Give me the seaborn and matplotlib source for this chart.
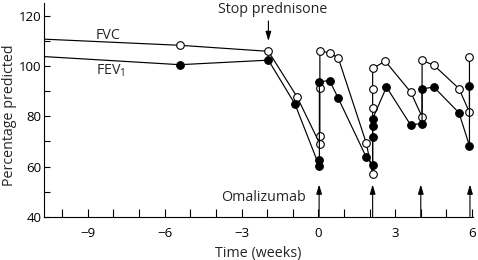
import matplotlib
matplotlib.use("Agg")
import matplotlib.pyplot as plt
import seaborn as sns
import pandas as pd
from matplotlib.ticker import MultipleLocator

sns.set_theme(style="ticks")
plt.rcParams['font.family'] = ['Open Sans', 'DejaVu Sans']
plt.rcParams['mathtext.fontset'] = 'custom'
plt.rcParams['mathtext.rm'] = 'Open Sans'

# Data (weeks relative to first omalizumab dose, % predicted)
fvc_weeks = [-11.5, -5.41, -1.95, -0.83, 0.06, 0.06, 0.06, 0.06, 0.44, 0.78,
             1.87, 2.12, 2.12, 2.12, 2.12, 2.61, 3.60, 4.05, 4.05, 4.51,
             5.49, 5.90, 5.90]
fvc_values = [111.0, 108.2, 105.8, 87.7, 69.0, 72.0, 91.2, 105.8, 105.3, 103.1,
              69.4, 57.0, 83.1, 90.9, 99.0, 101.9, 89.7, 79.8, 102.2, 100.3,
              91.0, 81.6, 103.4]

fev1_weeks = [-11.5, -5.41, -1.95, -0.91, 0.04, 0.04, 0.04, 0.44, 0.78,
              1.87, 2.12, 2.12, 2.12, 2.12, 2.66, 3.60, 4.05, 4.05, 4.51,
              5.49, 5.90, 5.90]
fev1_values = [104.2, 100.5, 102.3, 84.8, 60.1, 62.7, 93.7, 94.2, 87.1,
               63.8, 60.8, 71.8, 76.0, 79.0, 91.6, 76.6, 77.1, 90.9, 91.6,
               81.4, 68.3, 92.0]

omalizumab_weeks = [0.03, 2.12, 4.0, 5.92]
stop_prednisone_week = -1.95

x_tick_labels = [-9, -6, -3, 0, 3, 6]
y_tick_labels = [40, 60, 80, 100, 120]

fvc_df = pd.DataFrame({"week": fvc_weeks, "value": fvc_values})
fev1_df = pd.DataFrame({"week": fev1_weeks, "value": fev1_values})

W, H = 478, 260
fig = plt.figure(figsize=(4.78, 2.6), dpi=100)
ax = fig.add_axes([44.3 / W, 1 - 217 / H, (473.3 - 44.3) / W, (217 - 3) / H])

sns.lineplot(data=fvc_df, x="week", y="value", sort=False, estimator=None,
             ax=ax, color="black", lw=0.85, marker="o", markersize=5.5,
             markerfacecolor="white", markeredgecolor="black", markeredgewidth=0.8,
             zorder=3)
sns.lineplot(data=fev1_df, x="week", y="value", sort=False, estimator=None,
             ax=ax, color="black", lw=0.85, marker="o", markersize=5.5,
             markerfacecolor="black", markeredgecolor="black", markeredgewidth=0.8,
             zorder=4)

ax.set_xlim(-10.7, 6.05)
ax.set_ylim(40, 125)
ax.set_xticks(range(-10, 7))
ax.set_xticklabels([("\u2212" + str(-t) if t < 0 else str(t)) if t in x_tick_labels else ""
                    for t in range(-10, 7)])
ax.set_yticks(range(40, 121, 10))
ax.set_yticklabels([str(t) if t in y_tick_labels else "" for t in range(40, 121, 10)])

ax.tick_params(axis="x", direction="in", length=5.8, width=0.8, pad=7, labelsize=9.5, colors="black")
ax.tick_params(axis="y", direction="in", length=4.6, width=0.8, pad=2.1, labelsize=9.5, colors="black")
for s in ["top", "right"]:
    ax.spines[s].set_visible(False)
for s in ["left", "bottom"]:
    ax.spines[s].set_linewidth(0.8)
    ax.spines[s].set_color("black")

ax.set_xlabel("")
ax.set_ylabel("")
fig.text(257.8 / W, 1 - 256.5 / H, "Time (weeks)", ha="center", va="baseline", fontsize=10.3)
fig.text(13.3 / W, 1 - 115.5 / H, "Percentage predicted", ha="center", va="baseline",
         rotation=90, rotation_mode="anchor", fontsize=10.3)

# annotations
ax.text(-8.68, 110.57, "FVC", ha="left", va="baseline", fontsize=10.3)
ax.text(-8.68, 96.64, r"FEV$_{\mathregular{1}}$", ha="left", va="baseline", fontsize=10.3)
ax.text(-1.77, 120.92, "Stop prednisone", ha="center", va="baseline", fontsize=10.3)
arrow_style = "-|>,head_length=0.4,head_width=0.12"
ax.annotate("", xy=(stop_prednisone_week, 109.9), xytext=(stop_prednisone_week, 117.85),
            arrowprops=dict(arrowstyle=arrow_style, color="black", lw=0.8, mutation_scale=14,
                            shrinkA=0, shrinkB=0))
ax.text(-0.506, 46.49, "Omalizumab", ha="right", va="baseline", fontsize=10.3)
for w in omalizumab_weeks:
    ax.annotate("", xy=(w, 52.9), xytext=(w, 40.2),
                arrowprops=dict(arrowstyle=arrow_style, color="black", lw=0.8, mutation_scale=14,
                                shrinkA=0, shrinkB=0))

fig.savefig("out.png", dpi=100)
